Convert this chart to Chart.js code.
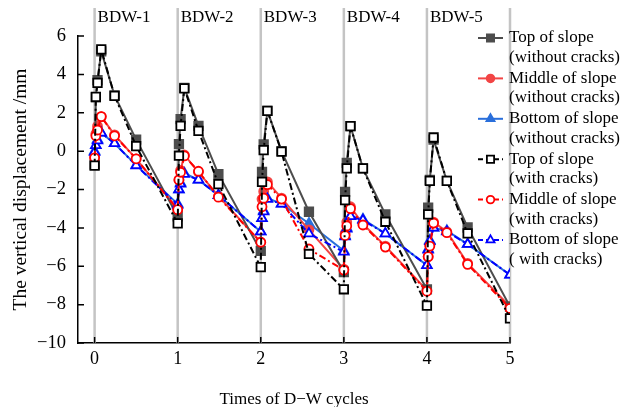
<!DOCTYPE html>
<html>
<head>
<meta charset="utf-8">
<script src="https://cdn.jsdelivr.net/npm/chart.js@4"></script>
<style>
  html, body { margin: 0; padding: 0; background: #fff; }
  #wrap { width: 622px; height: 407px; position: relative; }
</style>
</head>
<body>
<div id="wrap"><canvas id="chart" width="622" height="407"></canvas></div>
<script>
// --- Data ---
const cycleLabels = ['BDW-1', 'BDW-2', 'BDW-3', 'BDW-4', 'BDW-5'];
const cycleStarts = [0, 1, 2, 3, 4, 5];
const xTicks = [0, 1, 2, 3, 4, 5];
const yTicks = [-10, -8, -6, -4, -2, 0, 2, 4, 6];

// x position of each measurement (times of D-W cycles)
const xValues = [
  0, 0.015, 0.035, 0.08, 0.24, 0.5,
  1, 1.015, 1.035, 1.08, 1.25, 1.49,
  2, 2.015, 2.035, 2.08, 2.25, 2.58,
  3, 3.015, 3.035, 3.08, 3.23, 3.5,
  4, 4.015, 4.035, 4.08, 4.24, 4.49,
  5
];

const topWithout = [
  -0.7, 2.8, 3.7, 5.2, 2.9, 0.6,
  -3.4, 0.36, 1.67, 3.3, 1.32, -1.2,
  -5.2, -1.08, 0.35, 2.1, 0.0, -3.16,
  -6.3, -2.12, -0.61, 1.3, -0.9, -3.3,
  -7.2, -2.95, -1.5, 0.6, -1.55, -3.98,
  -8.1
];
const middleWithout = [
  -0.3, 0.9, 1.3, 1.8, 0.85, -0.4,
  -3.0, -1.5, -1.0, -0.2, -1.1, -2.35,
  -4.75, -2.5, -2.1, -1.6, -2.45, -4.1,
  -6.15, -4.3, -3.7, -2.9, -3.8, -4.95,
  -7.25, -5.5, -4.9, -3.7, -4.2, -5.85,
  -8.1
];
const bottomWithout = [
  0.0, 0.3, 0.6, 0.95, 0.4, -0.73,
  -2.75, -2.0, -1.65, -1.15, -1.5, -2.3,
  -4.2, -3.5, -3.1, -2.45, -2.75, -3.77,
  -5.2, -4.4, -4.0, -3.4, -3.55, -4.3,
  -5.95, -5.1, -4.65, -4.0, -4.15, -4.85,
  -6.45
];
const topWith = [
  -0.76, 2.83, 3.56, 5.3, 2.88, 0.26,
  -3.77, -0.24, 1.32, 3.27, 1.06, -1.72,
  -6.05, -1.6, 0.05, 2.1, -0.03, -5.36,
  -7.2, -2.55, -0.9, 1.3, -0.9, -3.68,
  -8.05, -3.3, -1.55, 0.71, -1.55, -4.29,
  -8.72
];
const middleWith = [
  -0.35, 0.8, 1.1, 1.8, 0.8, -0.4,
  -3.05, -1.5, -1.1, -0.25, -1.05, -2.4,
  -4.75, -2.9, -2.45, -1.75, -2.5, -5.1,
  -6.2, -4.4, -3.9, -3.0, -3.85, -5.0,
  -7.3, -5.5, -4.95, -3.75, -4.25, -5.9,
  -8.2
];
const bottomWith = [
  -0.05, 0.3, 0.55, 0.95, 0.4, -0.75,
  -2.8, -2.0, -1.7, -1.2, -1.5, -2.3,
  -4.2, -3.5, -3.15, -2.5, -2.75, -4.3,
  -5.25, -4.45, -4.05, -3.4, -3.6, -4.3,
  -5.95, -5.15, -4.7, -4.0, -4.2, -4.85,
  -6.45
];

const FONT = '"Liberation Serif", "Times New Roman", serif';
const DASH_DOT = [7, 3, 2, 3];

// --- Datasets ---
function series(label, values, color, style, filled, dashed, radius) {
  return {
    label: label,
    data: values.map((v, i) => ({ x: xValues[i], y: v })),
    borderColor: color,
    backgroundColor: color,
    borderWidth: 2,
    borderDash: dashed ? DASH_DOT : [],
    pointStyle: style,
    pointRadius: radius,
    pointBorderWidth: 1.8,
    pointBorderColor: color,
    pointBackgroundColor: filled ? color : '#ffffff',
    tension: 0,
    order: dashed ? 0 : 1
  };
}

const datasets = [
  series('Top of slope\n(without cracks)', topWithout, '#4d4d4d', 'rect', true, false, 6),
  series('Middle of slope\n(without cracks)', middleWithout, '#f24545', 'circle', true, false, 4.5),
  series('Bottom of slope\n(without cracks)', bottomWithout, '#2a6fdb', 'triangle', true, false, 5.5),
  series('Top of slope\n(with cracks)', topWith, '#000000', 'rect', false, true, 6),
  series('Middle of slope\n(with cracks)', middleWith, '#ff0000', 'circle', false, true, 4.5),
  series('Bottom of slope\n( with cracks)', bottomWith, '#0000ff', 'triangle', false, true, 5.5)
];

// --- Plugin: cycle separators, inward ticks, legend ---
const decorPlugin = {
  id: 'decor',
  beforeDatasetsDraw(chart) {
    const { ctx, scales: { x, y } } = chart;
    ctx.save();
    ctx.strokeStyle = '#c4c4c4';
    ctx.lineWidth = 2.5;
    cycleStarts.forEach(v => {
      const px = x.getPixelForValue(v);
      ctx.beginPath();
      ctx.moveTo(px, 8);
      ctx.lineTo(px, y.bottom);
      ctx.stroke();
    });
    ctx.fillStyle = '#000';
    ctx.font = '17px ' + FONT;
    ctx.textBaseline = 'middle';
    cycleLabels.forEach((lab, i) => {
      ctx.fillText(lab, x.getPixelForValue(cycleStarts[i]) + 3, 18);
    });
    ctx.restore();
  },
  afterDraw(chart) {
    const { ctx, scales: { x, y } } = chart;
    ctx.save();
    // inward ticks
    ctx.strokeStyle = '#000';
    ctx.lineWidth = 1.5;
    ctx.beginPath();
    yTicks.forEach(v => {
      const py = y.getPixelForValue(v);
      ctx.moveTo(x.left, py);
      ctx.lineTo(x.left + 6, py);
    });
    xTicks.forEach(v => {
      const px = x.getPixelForValue(v);
      ctx.moveTo(px, y.bottom);
      ctx.lineTo(px, y.bottom - 6);
    });
    ctx.stroke();

    // legend
    const lx0 = 478, lx1 = 503, tx = 509;
    ctx.font = '17px ' + FONT;
    ctx.textBaseline = 'middle';
    chart.data.datasets.forEach((ds, i) => {
      const ly = 38 + i * 40.4;
      ctx.strokeStyle = ds.borderColor;
      ctx.lineWidth = 2;
      ctx.setLineDash(ds.borderDash.length ? [5, 3] : []);
      ctx.beginPath();
      ctx.moveTo(lx0, ly);
      ctx.lineTo(lx1, ly);
      ctx.stroke();
      ctx.setLineDash([]);
      ctx.fillStyle = ds.pointBackgroundColor;
      ctx.strokeStyle = ds.pointBorderColor;
      ctx.lineWidth = 1.8;
      Chart.helpers.drawPoint(ctx, {
        pointStyle: ds.pointStyle,
        radius: ds.pointRadius * 0.85,
        borderWidth: 1.8,
        rotation: 0
      }, (lx0 + lx1) / 2, ly);
      ctx.fillStyle = '#000';
      ds.label.split('\n').forEach((line, j) => {
        ctx.fillText(line, tx, ly + j * 19.5);
      });
    });
    ctx.restore();
  }
};

new Chart(document.getElementById('chart'), {
  type: 'line',
  data: { datasets },
  plugins: [decorPlugin],
  options: {
    responsive: false,
    animation: false,
    layout: { padding: { top: 36, right: 112, left: 0, bottom: -3 } },
    plugins: { legend: { display: false }, tooltip: { enabled: false } },
    scales: {
      x: {
        type: 'linear',
        min: -0.2,
        max: 5,
        afterBuildTicks: s => { s.ticks = xTicks.map(v => ({ value: v })); },
        afterFit: s => { s.height = 67; },
        grid: { display: false },
        border: { display: true, color: '#000', width: 1.5 },
        ticks: { color: '#000', font: { family: FONT, size: 18 }, padding: -3 },
        title: {
          display: true,
          text: 'Times of D\u2212W cycles',
          color: '#000',
          font: { family: FONT, size: 17 },
          padding: { top: 0, bottom: 0 }
        }
      },
      y: {
        min: -10,
        max: 6,
        afterBuildTicks: s => { s.ticks = yTicks.map(v => ({ value: v })); },
        afterFit: s => { s.width = 78; },
        grid: { display: false },
        border: { display: true, color: '#000', width: 1.5 },
        ticks: {
          color: '#000',
          font: { family: FONT, size: 18.5 },
          padding: 4,
          callback: v => String(v).replace('-', '\u2212')
        },
        title: {
          display: true,
          text: 'The vertical displacement /mm',
          color: '#000',
          font: { family: FONT, size: 19.5 },
          padding: { top: 9, bottom: 0 }
        }
      }
    }
  }
});
</script>
</body>
</html>
